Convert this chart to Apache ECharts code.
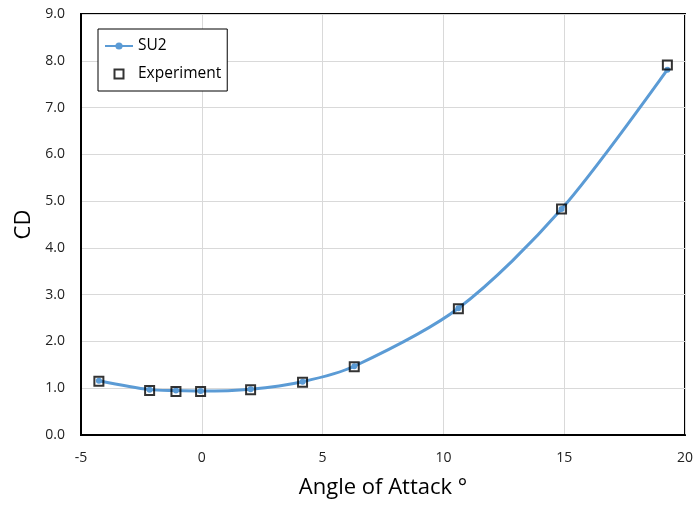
<!DOCTYPE html>
<html>
<head>
<meta charset="utf-8">
<script src="https://cdn.jsdelivr.net/npm/echarts@6/dist/echarts.min.js"></script>
<style>
  html, body { margin: 0; padding: 0; background: #fff; }
  #chart { width: 698px; height: 508px; }
</style>
</head>
<body>
<div id="chart"></div>
<script>
// angle of attack (deg)
var alpha = [-4.26, -2.16, -1.07, -0.05, 2.02, 4.17, 6.31, 10.62, 14.89, 19.27];
var su2CD = [1.16, 0.97, 0.95, 0.94, 0.98, 1.14, 1.47, 2.71, 4.83, 7.81];
var expCD = [1.15, 0.95, 0.93, 0.93, 0.97, 1.13, 1.46, 2.70, 4.83, 7.91];

var font = 'Open Sans, Liberation Sans, sans-serif';

function pairs(xs, ys) {
    return xs.map(function (x, i) { return [x, ys[i]]; });
}

var chart = echarts.init(document.getElementById('chart'));
chart.setOption({
    animation: false,
    grid: {
        left: 81, right: 13, top: 14, bottom: 73,
        show: true, borderColor: '#000', borderWidth: 2
    },
    legend: {
        orient: 'vertical',
        left: 98, top: 29,
        padding: [9, 6, 9, 6],
        itemGap: 12,
        itemWidth: 28, itemHeight: 9,
        borderColor: '#000', borderWidth: 1,
        backgroundColor: '#fff',
        textStyle: { fontFamily: font, fontSize: 15.5, color: '#000' },
        data: [
            { name: 'SU2' },
            { name: 'Experiment', icon: 'path://M0,0L10,0L10,10L0,10Z' }
        ]
    },
    xAxis: {
        type: 'value', min: -5, max: 20, interval: 5,
        name: 'Angle of Attack °', nameLocation: 'middle', nameGap: 42,
        nameTextStyle: { fontFamily: font, fontSize: 22, color: '#000' },
        axisLine: { onZero: false, lineStyle: { color: '#000', width: 2 } },
        axisTick: { show: false },
        axisLabel: { fontFamily: font, fontSize: 14, color: '#222', margin: 16 },
        splitLine: { lineStyle: { color: '#d9d9d9' } }
    },
    yAxis: {
        type: 'value', min: 0, max: 9, interval: 1,
        name: 'CD', nameLocation: 'middle', nameGap: 46,
        nameTextStyle: { fontFamily: font, fontSize: 22, color: '#000' },
        axisLine: { show: true, onZero: false, lineStyle: { color: '#000', width: 2 } },
        axisTick: { show: false },
        axisLabel: {
            fontFamily: font, fontSize: 14, color: '#222', margin: 16,
            formatter: function (v) { return v.toFixed(1); }
        },
        splitLine: { lineStyle: { color: '#d9d9d9' } }
    },
    series: [
        {
            name: 'SU2', type: 'line', smooth: 0.3,
            data: pairs(alpha, su2CD),
            symbol: 'circle', symbolSize: 6,
            lineStyle: { color: '#5b9bd5', width: 3 },
            itemStyle: { color: '#5b9bd5' },
            z: 2
        },
        {
            name: 'Experiment', type: 'scatter',
            data: pairs(alpha, expCD),
            symbol: 'rect', symbolSize: 9,
            itemStyle: { color: 'rgba(0,0,0,0)', borderColor: '#000', borderWidth: 2 },
            z: 3
        }
    ]
});
</script>
</body>
</html>
